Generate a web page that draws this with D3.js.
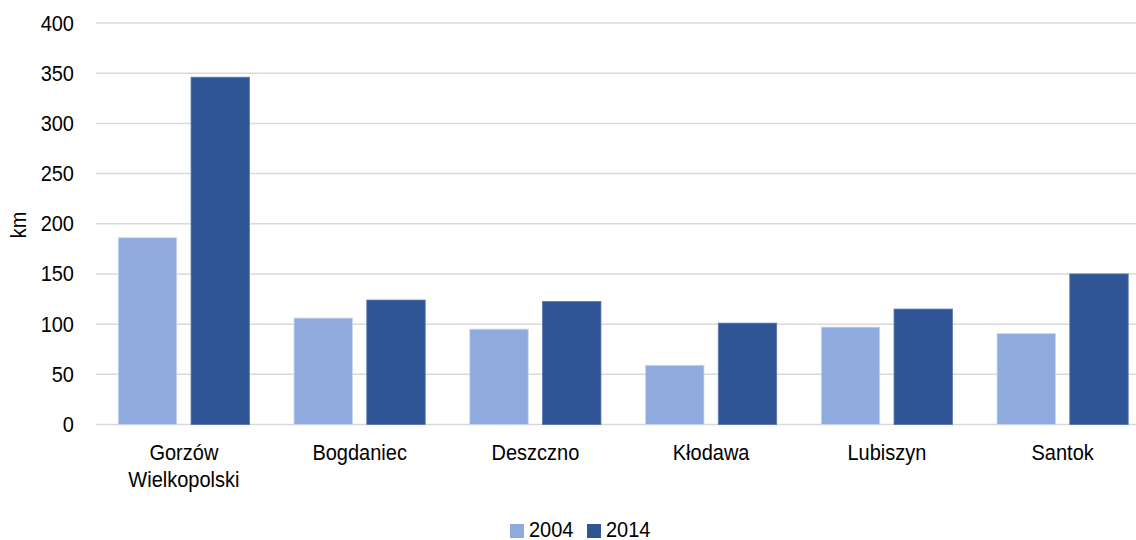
<!DOCTYPE html>
<html>
<head>
<meta charset="utf-8">
<script src="https://cdn.jsdelivr.net/npm/d3@7"></script>
<style>
  html, body { margin: 0; padding: 0; background: #fff; }
  svg { display: block; font-family: "Liberation Sans", Arial, sans-serif; }
</style>
</head>
<body>
<svg id="chart" width="1136" height="540"></svg>
<script>
const categories = ["Gorzów\nWielkopolski", "Bogdaniec", "Deszczno", "Kłodawa", "Lubiszyn", "Santok"];
const seriesNames = ["2004", "2014"];
const values2004 = [186, 106, 95, 59, 97, 90.5];
const values2014 = [346, 124, 122.5, 101, 115, 150];
const yTicks = [0, 50, 100, 150, 200, 250, 300, 350, 400];
const colors = ["#8FAADC", "#2F5597"];

(function () {
const svg = d3.select("#chart");
const mLeft = 96, mRight = 1150.5, mTop = 23, mBottom = 424.5;
const FS = 20;
const SY = 1.1; // vertical stretch of glyphs as in reference

const y = d3.scaleLinear().domain([0, 400]).range([mBottom, mTop]);
const x0 = d3.scaleBand().domain(categories).range([mLeft, mRight]).padding(0);
const step = x0.bandwidth();
const outer = 22.3;
const x1 = d3.scaleBand().domain(seriesNames).range([outer, step - outer]).paddingInner(0.197).paddingOuter(0);

function stext(parent, x, yy, str, anchor) {
  return parent.append("text")
    .attr("transform", `translate(${x},${yy}) scale(1,${SY})`)
    .attr("text-anchor", anchor).attr("font-size", FS).attr("fill", "#000").text(str);
}

// gridlines
svg.append("g").selectAll("line").data(yTicks).join("line")
  .attr("x1", mLeft).attr("x2", 1136)
  .attr("y1", d => y(d)).attr("y2", d => y(d))
  .attr("stroke", "#D9D9D9").attr("stroke-width", 1.5);

// y axis labels
const yAxis = d3.axisLeft(y).tickValues(yTicks).tickSize(0).tickPadding(0);
const ya = svg.append("g").attr("transform", `translate(74,0)`).call(yAxis);
ya.select(".domain").remove();
ya.selectAll("text").attr("font-size", FS).attr("fill", "#000")
  .attr("font-family", "'Liberation Sans', Arial, sans-serif")
  .attr("dy", null).attr("y", 7).attr("transform", `scale(1,${SY})`).attr("y", 7 / SY);

// y title
svg.append("text").attr("transform", `translate(26,225) rotate(-90) scale(1,${SY})`)
  .attr("text-anchor", "middle").attr("font-size", FS).attr("fill", "#000").text("km");

// bars
const data = categories.map((c, i) => ({ c, vals: [values2004[i], values2014[i]] }));
const groups = svg.append("g").selectAll("g").data(data).join("g")
  .attr("transform", d => `translate(${x0(d.c)},0)`);
groups.selectAll("rect").data(d => d.vals.map((v, j) => ({ s: seriesNames[j], v, j })))
  .join("rect")
  .attr("x", d => x1(d.s))
  .attr("width", x1.bandwidth())
  .attr("y", d => y(d.v))
  .attr("height", d => y(0) - y(d.v))
  .attr("fill", d => colors[d.j])
  .attr("stroke", d => d.j === 0 ? "#C9D6EE" : "#5A77AE")
  .attr("stroke-width", 0.8);

// x labels
const xl = svg.append("g");
categories.forEach(c => {
  c.split("\n").forEach((ln, k) => {
    stext(xl, x0(c) + step / 2, 460 + k * 27, ln, "middle");
  });
});

// legend
const legendX = [510, 587];
seriesNames.forEach((s, j) => {
  svg.append("rect").attr("x", legendX[j]).attr("y", 524).attr("width", 14).attr("height", 14).attr("fill", colors[j]);
  stext(svg, legendX[j] + 19, 537, s, "start");
});
})();
</script>
</body>
</html>
